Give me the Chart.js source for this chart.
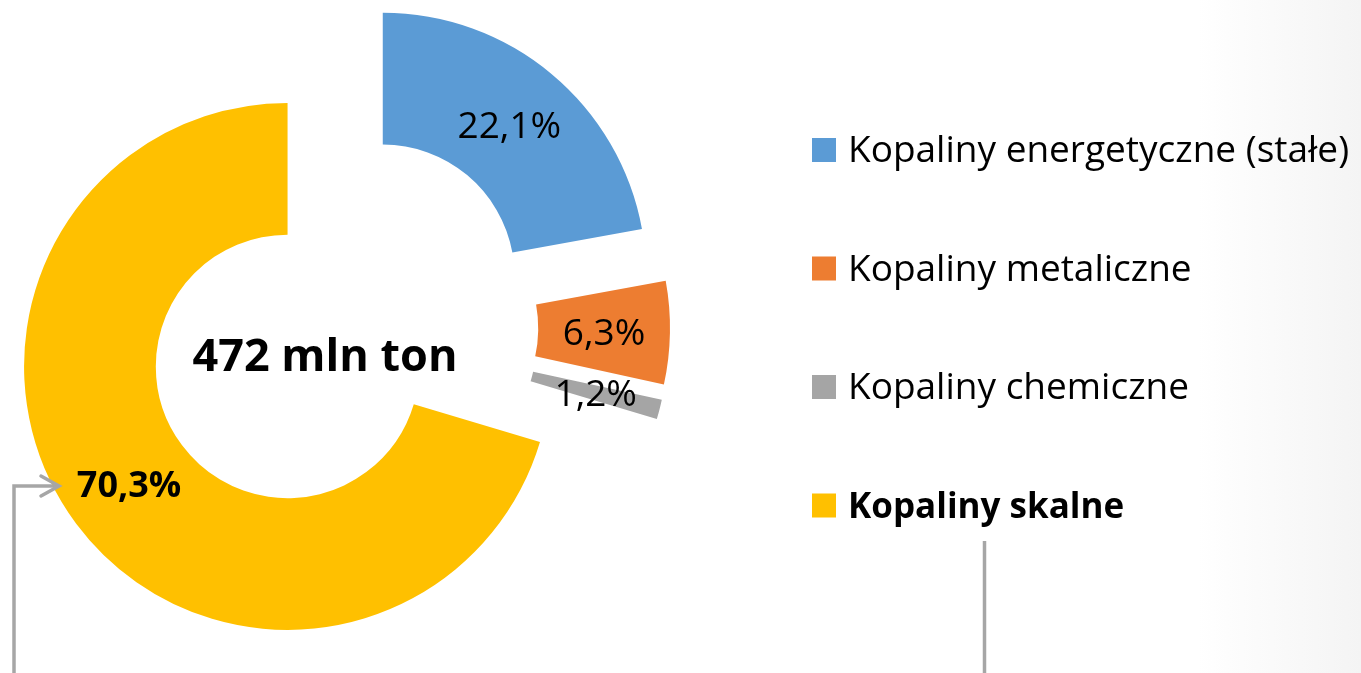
<!DOCTYPE html>
<html lang="pl">
<head>
<meta charset="utf-8">
<title>Wydobycie kopalin</title>
<script src="https://cdn.jsdelivr.net/npm/chart.js@4.4.1/dist/chart.umd.min.js"></script>
<style>
  html, body { margin: 0; padding: 0; }
  body {
    width: 1361px;
    height: 673px;
    overflow: hidden;
    background: linear-gradient(to right, #ffffff 0%, #ffffff 88%, #f4f4f4 100%);
  }
  #chart { display: block; }
</style>
</head>
<body>
<canvas id="chart" width="1361" height="673"></canvas>
<script>
const categories = ['Kopaliny energetyczne (stałe)', 'Kopaliny metaliczne', 'Kopaliny chemiczne', 'Kopaliny skalne'];
const shares = [22.1, 6.3, 1.2, 70.3];
const colors = ['#5b9bd5', '#ed7d31', '#a5a5a5', '#ffc000'];
const totalLabel = '472 mln ton';
const highlighted = 3; // "Kopaliny skalne" is written in bold
const explode = [66, 66, 66, 66];

const FONT = '"Open Sans", "Noto Sans", sans-serif';
const lineColor = '#a6a6a6';

const formatShare = v => v.toFixed(1).replace('.', ',') + '%';

// push every slice out along its middle angle (like point explosion in Excel)
const explodePlugin = {
    id: 'explode',
    afterDatasetsUpdate: (chart) => {
        chart.getDatasetMeta(0).data.forEach((arc, i) => {
            const mid = (arc.startAngle + arc.endAngle) / 2;
            arc.x += Math.cos(mid) * explode[i];
            arc.y += Math.sin(mid) * explode[i];
        });
    }
};

const labelPlugin = {
    id: 'sliceLabels',
    afterDatasetsDraw: (chart) => {
        const ctx = chart.ctx;
        ctx.save();
        ctx.fillStyle = '#000';
        ctx.textAlign = 'center';
        chart.getDatasetMeta(0).data.forEach((arc, i) => {
            const pos = arc.tooltipPosition();
            const bold = i === highlighted;
            const size = bold ? 36 : 37;
            ctx.font = `${bold ? 'bold ' : ''}${size}px ${FONT}`;
            ctx.fillText(formatShare(shares[i]), pos.x, pos.y + size * 0.36);
        });
        ctx.restore();
    }
};

const decorPlugin = {
    id: 'decor',
    afterDraw: (chart) => {
        const ctx = chart.ctx;
        ctx.save();

        // total in the hole
        ctx.fillStyle = '#000';
        ctx.textAlign = 'center';
        ctx.font = `bold 45px ${FONT}`;
        ctx.fillText(totalLabel, 325, 371);

        // legend
        const legendX = 812, firstBase = 162, step = 118.5, box = 24;
        ctx.textAlign = 'left';
        categories.forEach((name, i) => {
            const base = firstBase + i * step;
            ctx.fillStyle = colors[i];
            ctx.fillRect(legendX, base - box, box, box);
            ctx.fillStyle = '#000';
            ctx.font = i === highlighted ? `bold 35px ${FONT}` : `37px ${FONT}`;
            ctx.fillText(name, legendX + 36, base);
        });

        // grey connector lines
        ctx.strokeStyle = lineColor;
        ctx.lineWidth = 3.5;
        ctx.beginPath();
        ctx.moveTo(984.5, 541);
        ctx.lineTo(984.5, 673);
        ctx.stroke();

        ctx.beginPath();
        ctx.moveTo(14, 673);
        ctx.lineTo(14, 486);
        ctx.lineTo(58, 486);
        ctx.stroke();

        ctx.lineCap = 'round';
        ctx.beginPath();
        ctx.moveTo(41, 476);
        ctx.lineTo(59, 486);
        ctx.lineTo(41, 496);
        ctx.stroke();

        ctx.restore();
    }
};

new Chart(document.getElementById('chart'), {
    type: 'doughnut',
    data: {
        labels: categories,
        datasets: [{
            data: shares,
            backgroundColor: colors,
            borderWidth: 0,
            clip: false
        }]
    },
    options: {
        responsive: false,
        animation: false,
        events: [],
        radius: 263.5,
        cutout: '50%',
        layout: { padding: { left: 0, top: 0, right: 680, bottom: 19 } },
        plugins: {
            legend: { display: false },
            tooltip: { enabled: false }
        }
    },
    plugins: [explodePlugin, labelPlugin, decorPlugin]
});
</script>
</body>
</html>
